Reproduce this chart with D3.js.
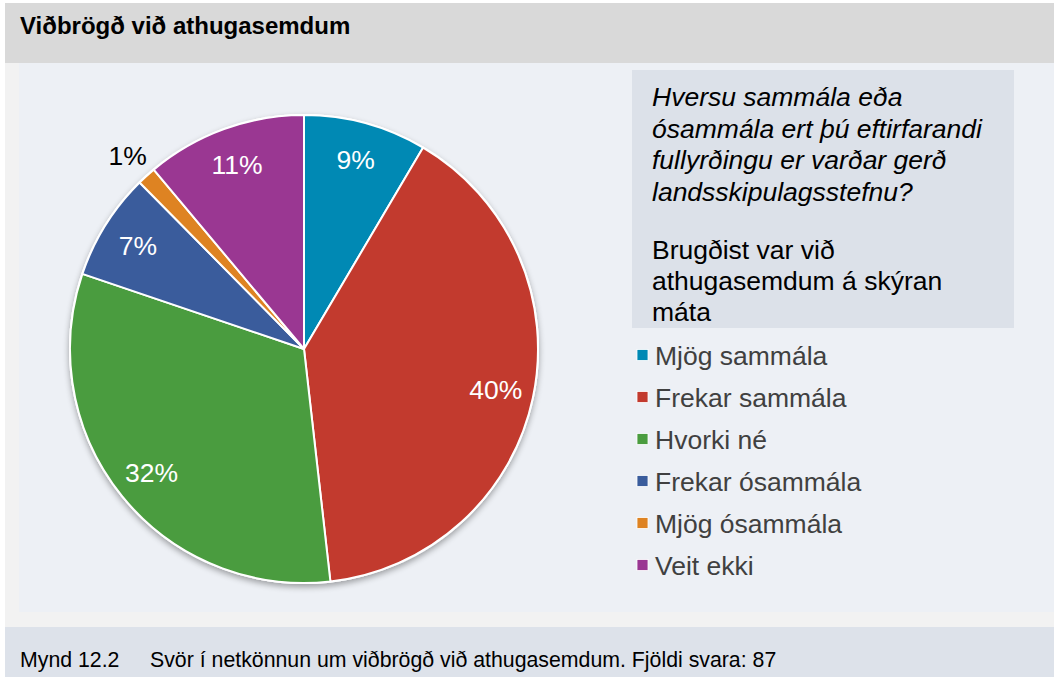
<!DOCTYPE html>
<html>
<head>
<meta charset="utf-8">
<script src="https://cdn.jsdelivr.net/npm/d3@7"></script>
<style>
  html, body { margin: 0; padding: 0; background: #ffffff; }
  svg { display: block; font-family: "Liberation Sans", Arial, sans-serif; }
</style>
</head>
<body>
<svg id="chart" width="1054" height="677"></svg>
<script>
// data (slice angles), labels are the rounded shares
const categories = ["Mjög sammála", "Frekar sammála", "Hvorki né", "Frekar ósammála", "Mjög ósammála", "Veit ekki"];
const shares = [8.5, 39.7, 32.0, 7.4, 1.3, 11.1];
const colors = ["#0089b4", "#c23a2e", "#4a9c3f", "#3a5c9c", "#de8322", "#9a3792"];
const questionLines = ["Hversu sammála eða", "ósammála ert þú eftirfarandi", "fullyrðingu er varðar gerð", "landsskipulagsstefnu?"];
const statementLines = ["Brugðist var við", "athugasemdum á skýran", "máta"];
const title = "Viðbrögð við athugasemdum";
const captionNo = "Mynd 12.2";
const captionText = "Svör í netkönnun um viðbrögð við athugasemdum. Fjöldi svara: 87";

const svg = d3.select("#chart");

// frame
svg.append("rect").attr("x", 5).attr("y", 3).attr("width", 1049).attr("height", 674).attr("fill", "#f2f2f2");
svg.append("rect").attr("x", 5).attr("y", 3).attr("width", 1049).attr("height", 60).attr("fill", "#d9d9d9");
svg.append("rect").attr("x", 19).attr("y", 63).attr("width", 1035).attr("height", 549).attr("fill", "#edf0f5");
svg.append("rect").attr("x", 5).attr("y", 627).attr("width", 1049).attr("height", 50).attr("fill", "#dde2ea");

svg.append("text")
  .attr("x", 20).attr("y", 34)
  .style("font-size", "24px").style("font-weight", "bold")
  .attr("fill", "#000")
  .text(title);

svg.append("text")
  .attr("x", 20).attr("y", 667)
  .style("font-size", "21.3px").attr("fill", "#000")
  .text(captionNo);
svg.append("text")
  .attr("x", 150).attr("y", 667)
  .style("font-size", "21.3px").attr("fill", "#000")
  .text(captionText);

// shadow for the pie
const defs = svg.append("defs");
const shadow = defs.append("filter").attr("id", "pieShadow")
  .attr("x", "-10%").attr("y", "-10%").attr("width", "120%").attr("height", "125%");
shadow.append("feGaussianBlur").attr("in", "SourceAlpha").attr("stdDeviation", 3);
shadow.append("feOffset").attr("dx", 0).attr("dy", 3).attr("result", "blur");
shadow.append("feComponentTransfer").append("feFuncA").attr("type", "linear").attr("slope", 0.35);
const merge = shadow.append("feMerge");
merge.append("feMergeNode");
merge.append("feMergeNode").attr("in", "SourceGraphic");

// pie
const cx = 304, cy = 349, radius = 234;
const color = d3.scaleOrdinal().domain(categories).range(colors);
const pie = d3.pie().sort(null).value(d => d.value);
const rows = categories.map((c, i) => ({ name: c, value: shares[i] }));
const arcs = pie(rows);
const arc = d3.arc().innerRadius(0).outerRadius(radius);
const labelArc = d3.arc().innerRadius(196).outerRadius(196);
const outerLabelArc = d3.arc().innerRadius(262).outerRadius(262);

const g = svg.append("g").attr("transform", `translate(${cx},${cy})`);
g.append("circle").attr("r", radius + 1).attr("fill", "#ffffff").attr("filter", "url(#pieShadow)");
g.selectAll("path.slice")
  .data(arcs)
  .join("path")
  .attr("class", "slice")
  .attr("d", arc)
  .attr("fill", d => color(d.data.name))
  .attr("stroke", "#ffffff")
  .attr("stroke-width", 2)
  .attr("stroke-linejoin", "round");

// percent labels, small slices go outside
g.selectAll("text.pct")
  .data(arcs)
  .join("text")
  .attr("class", "pct")
  .attr("transform", d => {
    const p = d.data.value < 3 ? outerLabelArc.centroid(d) : labelArc.centroid(d);
    return `translate(${p[0]},${p[1]})`;
  })
  .attr("text-anchor", "middle")
  .attr("dy", "0.36em")
  .style("font-size", "26.5px")
  .attr("fill", d => d.data.value < 3 ? "#000000" : "#ffffff")
  .text(d => Math.round(d.data.value) + "%");

// question box
svg.append("rect").attr("x", 632).attr("y", 70).attr("width", 382).attr("height", 258).attr("fill", "#dce1e9");
const qText = svg.append("g").style("font-size", "26.5px").attr("fill", "#000");
qText.selectAll("text.q")
  .data(questionLines)
  .join("text")
  .attr("class", "q")
  .attr("x", 652)
  .attr("y", (d, i) => 106 + i * 31.5)
  .style("font-style", "italic")
  .text(d => d);
qText.selectAll("text.s")
  .data(statementLines)
  .join("text")
  .attr("class", "s")
  .attr("x", 652)
  .attr("y", (d, i) => 259 + i * 31)
  .text(d => d);

// legend
const legend = svg.append("g").attr("transform", "translate(637,355)");
const item = legend.selectAll("g.item")
  .data(categories)
  .join("g")
  .attr("class", "item")
  .attr("transform", (d, i) => `translate(0,${i * 42})`);
item.append("rect")
  .attr("x", 0).attr("y", -5.5)
  .attr("width", 11).attr("height", 11)
  .attr("fill", d => color(d))
  .attr("stroke", "#ffffff").attr("stroke-width", 0.8);
item.append("text")
  .attr("x", 18).attr("dy", "0.36em")
  .style("font-size", "26.5px")
  .attr("fill", "#404040")
  .text(d => d);
</script>
</body>
</html>
